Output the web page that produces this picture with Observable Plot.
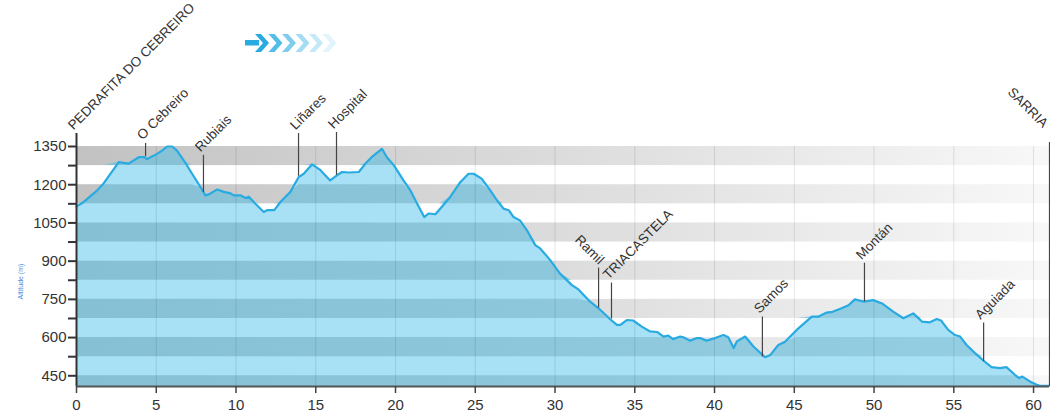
<!DOCTYPE html>
<html><head><meta charset="utf-8">
<script src="https://cdn.jsdelivr.net/npm/d3@7"></script>
<script src="https://cdn.jsdelivr.net/npm/@observablehq/plot@0.6"></script>
<style>
body{margin:0;background:#fff;font-family:"Liberation Sans",Arial,sans-serif;}
#wrap{position:relative;width:1050px;height:414px;overflow:hidden;}
#arrow{position:absolute;left:0;top:0;pointer-events:none;}
</style></head><body>
<svg width="0" height="0" style="position:absolute"><defs>
<linearGradient id="gray" gradientUnits="userSpaceOnUse" x1="76" x2="1049" y1="0" y2="0">
<stop offset="0" stop-color="#c2c2c2"/><stop offset="0.5" stop-color="#dcdcdc"/><stop offset="1" stop-color="#f8f8f8"/>
</linearGradient>
<linearGradient id="blue" gradientUnits="userSpaceOnUse" x1="76" x2="1049" y1="0" y2="0">
<stop offset="0" stop-color="#86c0d5"/><stop offset="1" stop-color="#94cfe4"/>
</linearGradient>
</defs></svg>
<div id="wrap">
<svg id="arrow" width="400" height="70">
<rect x="245" y="40" width="14" height="5.5" fill="#29abe2"/>
<polygon points="255,34 261,34 269,43 261,52 255,52 263,43" fill="#29abe2"/>
<polygon points="268.5,34 274.5,34 282.5,43 274.5,52 268.5,52 276.5,43" fill="#52bde9"/>
<polygon points="282,34 288,34 296,43 288,52 282,52 290,43" fill="#7ecdee"/>
<polygon points="295.5,34 301.5,34 309.5,43 301.5,52 295.5,52 303.5,43" fill="#a4dcf3"/>
<polygon points="309,34 315,34 323,43 315,52 309,52 317,43" fill="#c6e9f8"/>
<polygon points="322.5,34 328.5,34 336.5,43 328.5,52 322.5,52 330.5,43" fill="#e2f4fb"/>
</svg>
</div>
<script>
// Elevation profile (km, metres)
const km = [0,0.36,1.3,1.7,2.65,3.27,3.9,4.3,4.4,5.05,5.37,5.68,6.0,6.3,6.73,7.25,7.77,8.08,8.3,8.82,9.24,9.66,9.86,10.3,10.6,10.8,11.2,11.74,11.95,12.4,12.78,13.4,13.93,14.25,14.77,15.3,15.9,16.33,16.65,17.1,17.7,18.1,18.5,19.15,19.46,19.9,20.5,20.93,21.35,21.8,22.07,22.5,22.8,23.43,24.06,24.58,24.9,25.4,25.94,26.36,26.77,27.1,27.4,27.8,28.24,28.76,29.07,29.7,30.3,31.06,31.47,32.2,32.73,33.46,33.88,34.1,34.5,34.9,35.44,35.96,36.4,36.8,37.1,37.4,37.85,38.05,38.47,38.9,39.1,39.5,40.04,40.56,40.86,41.2,41.4,41.92,42.44,43.17,43.5,44.0,44.42,45.15,46.1,46.5,47.03,47.4,47.97,48.4,48.8,49.1,49.37,49.95,50.5,51.2,51.84,52.46,53.0,53.5,53.93,54.2,54.65,55.08,55.4,55.8,56.33,56.85,57.37,57.9,58.3,58.83,59.1,59.3,59.77,60.2,60.4,61.0];
const elev = [1115,1128,1178,1205,1289,1283,1308,1308,1300,1321,1334,1350,1350,1334,1295,1243,1191,1158,1162,1181,1172,1166,1158,1158,1148,1153,1126,1093,1100,1100,1132,1171,1230,1243,1280,1257,1217,1237,1250,1248,1250,1282,1308,1341,1308,1276,1217,1178,1126,1073,1087,1084,1106,1152,1210,1243,1243,1224,1178,1139,1106,1100,1073,1060,1021,963,950,904,852,806,789,741,715,672,650,650,669,667,643,624,622,604,608,594,604,601,588,598,598,588,598,610,601,559,585,604,565,523,532,571,584,630,682,682,698,701,715,727,750,745,741,747,734,702,676,695,663,660,673,667,630,610,604,571,539,510,484,480,484,454,441,447,428,415,411,411];

// Waypoints
const wpName = ["PEDRAFITA DO CEBREIRO","O Cebreiro","Rubiais","Liñares","Hospital","Ramil","TRIACASTELA","Samos","Montán","Aguiada","SARRIA"];
const wpKm   = [0,4.33,7.96,13.92,16.3,32.73,33.54,43.0,49.4,56.87,61.0];
const wpBase = [408,1311,1170,1233,1237,716,673,524,740,505,408];
const wpTop  = [1401,1362,1315,1401,1405,873,814,681,892,657,1366];
const wpDir  = ["up","up","up","up","up","down","up","up","up","up","end"];

// Axes
const yMin = 408, yMax = 1350;
const yTickLabels = [450,600,750,900,1050,1200,1350];
const yMinorTicks = [525,675,825,975,1125,1275];
const xTicks = [0,5,10,15,20,25,30,35,40,45,50,55,60];
const bandLo = [1275,1125,975,825,675,525,408];
const bandHi = [1350,1200,1050,900,750,600,450];

const profile = km.map((k,i)=>({km:k, elev:elev[i]}));
const bands = bandLo.map((lo,i)=>({lo, hi:bandHi[i]}));
const wps = wpName.map((n,i)=>({name:n, km:wpKm[i], base:wpBase[i], top:wpTop[i], dir:wpDir[i]}));
const x0 = km[0], x1 = km[km.length-1];

const marks = [
  Plot.rect(bands, {x1: d=>x0, x2: d=>x1, y1: "lo", y2: "hi", fill: "url(#gray)"}),
  Plot.areaY(profile, {x: "km", y1: d=>yMin, y2: "elev", fill: "#a8e0f5"}),
];
for (const b of bands) {
  marks.push(Plot.areaY(profile, {x: "km", y1: d=>b.lo, y2: d=>Math.max(b.lo, Math.min(b.hi, d.elev)), fill: "url(#blue)"}));
}
marks.push(
  Plot.ruleX(xTicks, {x: d=>d, y1: d=>yMin, y2: d=>yMax, stroke: "#000", strokeOpacity: 0.1, strokeWidth: 1}),
  Plot.line(profile, {x: "km", y: "elev", stroke: "#29abe2", strokeWidth: 2.2, strokeLinejoin: "round"}),
  Plot.ruleX(wps.filter(d=>d.km>x0), {x: "km", y1: "base", y2: "top", stroke: "#444", strokeWidth: 1.2}),
  Plot.ruleX(wps.filter(d=>d.km===x0), {x: "km", y1: "base", y2: "top", stroke: "#333", strokeWidth: 2}),
  Plot.ruleY([yMin], {stroke: "#555", strokeWidth: 2}),
  Plot.ruleY(yTickLabels.concat(yMinorTicks), {y: d=>d, x1: d=>x0, x2: d=>x0, insetLeft: -8, stroke: "#333", strokeWidth: 2}),
  Plot.text(yTickLabels, {y: d=>d, x: d=>x0, text: d=>String(d), textAnchor: "end", dx: -10, fontSize: 15, fill: "#333"}),
  Plot.ruleX(xTicks, {x: d=>d, y1: d=>yMin, y2: d=>yMin, insetBottom: -7, stroke: "#444", strokeWidth: 1.5}),
  Plot.text(xTicks, {x: d=>d, y: d=>yMin, text: d=>String(d), dy: 19, fontSize: 15, fill: "#333"}),
  Plot.text(wps.filter(d=>d.dir==="up"), {x: "km", y: "top", text: "name", rotate: -45, textAnchor: "start", lineAnchor: "bottom", dx: -3, dy: -3, fontSize: 13.5, fill: "#333"}),
  Plot.text(wps.filter(d=>d.dir==="down"), {x: "km", y: "top", text: "name", rotate: 45, textAnchor: "end", lineAnchor: "bottom", dx: 0, dy: -3, fontSize: 13.5, fill: "#333"}),
  Plot.text(wps.filter(d=>d.dir==="end"), {x: "km", y: "top", text: "name", rotate: 45, textAnchor: "end", lineAnchor: "bottom", dx: -7, dy: -14, fontSize: 13.5, fill: "#333"}),
  Plot.text(["Altitude (m)"], {x: d=>x0, y: d=>820, text: d=>d, rotate: -90, dx: -56, fontSize: 7, fill: "#4a8fe0"})
);

const chart = Plot.plot({
  width: 1050, height: 414,
  marginLeft: 76, marginRight: 1, marginTop: 146, marginBottom: 28,
  x: {domain: [x0, x1], axis: null},
  y: {domain: [yMin, yMax], axis: null},
  style: {fontFamily: "'Liberation Sans', Arial, sans-serif", background: "transparent", overflow: "visible"},
  marks
});
const wrap = document.getElementById("wrap");
wrap.insertBefore(chart, wrap.firstChild);
</script>
</body></html>
